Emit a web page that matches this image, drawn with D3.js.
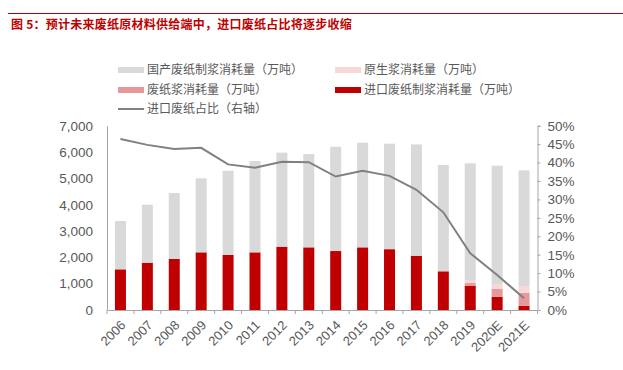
<!DOCTYPE html>
<html>
<head>
<meta charset="utf-8">
<script src="https://cdn.jsdelivr.net/npm/d3@7"></script>
<style>
  body { margin: 0; background: #fff; }
  text { font-family: "Liberation Sans", "Noto Sans CJK SC", sans-serif; }
  .cjk { font-family: "Noto Sans CJK SC", sans-serif; }
</style>
</head>
<body>
<svg id="chart" width="623" height="370"></svg>
<script>
// years and series (万吨), ratio in %
var years = ["2006","2007","2008","2009","2010","2011","2012","2013","2014","2015","2016","2017","2018","2019","2020E","2021E"];
var importPulp = [1545,1797,1937,2190,2090,2190,2405,2380,2240,2380,2310,2062,1470,923,505,163];
var wastePulp  = [0,0,0,0,0,0,0,0,0,0,0,0,0,100,305,494];
var virginPulp = [0,0,0,0,0,0,0,0,0,0,0,0,0,115,177,243];
var totals     = [3380,4000,4444,5000,5290,5660,5975,5925,6200,6355,6317,6290,5507,5570,5480,5305];
var importRatio = [46.4,44.8,43.7,44.0,39.5,38.6,40.2,40.1,36.2,37.8,36.4,32.6,26.5,15.4,9.5,3.2];
var leftTicks = [0,1000,2000,3000,4000,5000,6000,7000];
var rightTicks = [0,5,10,15,20,25,30,35,40,45,50];

var seriesNames = ["国产废纸制浆消耗量（万吨）","原生浆消耗量（万吨）","废纸浆消耗量（万吨）","进口废纸制浆消耗量（万吨）","进口废纸占比（右轴）"];
var colors = {domestic:"#d9d9d9", virgin:"#f8d7d7", waste:"#e6989a", imp:"#c00000", line:"#808080"};

var svg = d3.select("#chart");
var textColor = "#595959";

// title
svg.append("line").attr("x1", 8).attr("x2", 623).attr("y1", 13.5).attr("y2", 13.5)
    .attr("stroke", "#c00000").attr("stroke-width", 1);
svg.append("text").attr("class", "cjk").attr("x", 11).attr("y", 29)
    .attr("fill", "#c00000").attr("font-size", 12).attr("font-weight", "bold")
    .attr("letter-spacing", 0.25)
    .text("图 5：预计未来废纸原材料供给端中，进口废纸占比将逐步收缩");

var plotL = 107, plotR = 537.5, plotT = 125.7, plotB = 310;

var xb = d3.scaleBand().domain(years).range([plotL, plotR]);
var y = d3.scaleLinear().domain([0, 7000]).range([plotB, plotT]);
var y2 = d3.scaleLinear().domain([0, 50]).range([plotB, plotT]);

// stacked data
var rows = years.map(function(yr, i) {
    return {
        year: yr,
        imp: importPulp[i],
        waste: wastePulp[i],
        virgin: virginPulp[i],
        domestic: totals[i] - importPulp[i] - wastePulp[i] - virginPulp[i]
    };
});
var stack = d3.stack().keys(["imp", "waste", "virgin", "domestic"]);
var layers = stack(rows);

svg.append("g").selectAll("g")
    .data(layers)
    .enter().append("g")
    .attr("fill", function(d) { return colors[d.key]; })
    .selectAll("rect")
    .data(function(d) { return d; })
    .enter().append("rect")
    .attr("x", function(d) { return xb(d.data.year) + xb.bandwidth() / 2 - 5.5; })
    .attr("width", 11)
    .attr("y", function(d) { return y(d[1]); })
    .attr("height", function(d) { return y(d[0]) - y(d[1]); });

// line
var line = d3.line()
    .x(function(d, i) { return xb(years[i]) + xb.bandwidth() / 2; })
    .y(function(d) { return y2(d); });
svg.append("path").datum(importRatio)
    .attr("d", line)
    .attr("fill", "none")
    .attr("stroke", colors.line)
    .attr("stroke-width", 2);

// axes
var gl = svg.append("g").attr("transform", "translate(" + plotL + ",0)")
    .call(d3.axisLeft(y).tickValues(leftTicks).tickFormat(d3.format(",")).tickSize(0).tickPadding(14));
var gr = svg.append("g").attr("transform", "translate(" + plotR + ",0)")
    .call(d3.axisRight(y2).tickValues(rightTicks).tickFormat(function(d) { return d + "%"; }).tickSize(3).tickPadding(7));
var gx = svg.append("g").attr("transform", "translate(0," + plotB + ")")
    .call(d3.axisBottom(xb).tickSize(0));

[gl, gr, gx].forEach(function(g) {
    g.select(".domain").attr("stroke", "#a6a6a6");
    g.selectAll(".tick line").attr("stroke", "#a6a6a6");
    g.selectAll("text").attr("fill", textColor).attr("font-size", 13.5);
});

// x tick marks at band boundaries
svg.append("g").selectAll("line")
    .data(years.concat(["end"]))
    .enter().append("line")
    .attr("x1", function(d, i) { return plotL + i * xb.bandwidth(); })
    .attr("x2", function(d, i) { return plotL + i * xb.bandwidth(); })
    .attr("y1", plotB).attr("y2", plotB + 4)
    .attr("stroke", "#a6a6a6");

gx.selectAll(".tick text")
    .attr("text-anchor", "end")
    .attr("font-size", 13)
    .attr("dy", 0)
    .attr("y", 0)
    .attr("transform", "translate(6,16) rotate(-45)");

// legend
var legend = [
    {name: seriesNames[0], color: colors.domestic, x: 118, y: 70, type: "rect"},
    {name: seriesNames[1], color: colors.virgin, x: 335, y: 70, type: "rect"},
    {name: seriesNames[2], color: colors.waste, x: 118, y: 90, type: "rect"},
    {name: seriesNames[3], color: colors.imp, x: 335, y: 90, type: "rect"},
    {name: seriesNames[4], color: colors.line, x: 118, y: 109, type: "line"}
];
var lg = svg.append("g").selectAll("g").data(legend).enter().append("g")
    .attr("transform", function(d) { return "translate(" + d.x + "," + d.y + ")"; });
lg.filter(function(d) { return d.type === "rect"; }).append("rect")
    .attr("x", 0).attr("y", -3).attr("width", 26).attr("height", 6)
    .attr("fill", function(d) { return d.color; });
lg.filter(function(d) { return d.type === "line"; }).append("line")
    .attr("x1", 0).attr("x2", 26).attr("y1", 0).attr("y2", 0)
    .attr("stroke", function(d) { return d.color; }).attr("stroke-width", 2);
lg.append("text").attr("class", "cjk")
    .attr("x", 29).attr("y", 0).attr("dy", "0.35em")
    .attr("font-size", 12).attr("fill", textColor)
    .text(function(d) { return d.name; });
</script>
</body>
</html>
